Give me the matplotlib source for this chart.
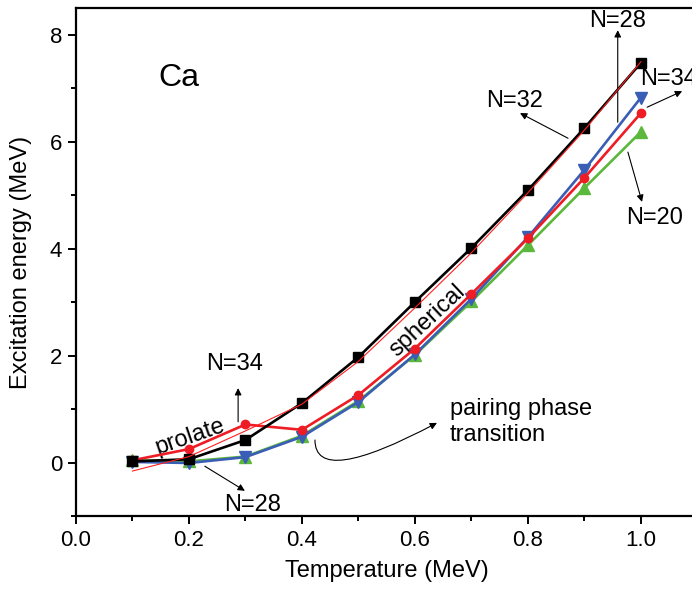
import matplotlib
matplotlib.use("Agg")
import matplotlib.pyplot as plt
from matplotlib.ticker import MultipleLocator

plt.rcParams['font.family'] = ['Liberation Sans', 'DejaVu Sans']

# temperature grid (MeV)
T = [0.1, 0.2, 0.3, 0.4, 0.5, 0.6, 0.7, 0.8, 0.9, 1.0]

# excitation energies (MeV)
E_black = [0.03, 0.07, 0.43, 1.12, 1.98, 3.01, 4.02, 5.10, 6.26, 7.48]
E_red = [0.05, 0.26, 0.72, 0.62, 1.27, 2.14, 3.16, 4.20, 5.33, 6.54]
E_blue = [0.02, 0.0, 0.11, 0.49, 1.14, 2.03, 3.07, 4.22, 5.48, 6.83]
E_green = [0.05, 0.03, 0.12, 0.51, 1.16, 2.02, 3.02, 4.07, 5.14, 6.19]
E_sph = [-0.15, 0.12, 0.60, 1.10, 1.90, 2.90, 3.93, 5.05, 6.22, 7.50]

fig = plt.figure(figsize=(6.92, 5.89), dpi=100)
# axes runs past the right edge of the figure, like the cropped original
ax = fig.add_axes([0.1098, 0.1231, 0.898, 0.8629])

lw = 1.9
ax.plot(T, E_green, color='#5cb83c', lw=lw, marker='^', ms=8, zorder=2)
ax.plot(T, E_blue, color='#3a5db5', lw=lw, marker='v', ms=8, zorder=3)
ax.plot(T, E_red, color='#ee1c24', lw=lw, marker='o', ms=6, zorder=4)
ax.plot(T, E_black, color='black', lw=lw, marker='s', ms=6.5, zorder=5)
ax.plot(T, E_sph, color='#ff2020', lw=0.8, zorder=6)

ax.set_xlim(0, 1.1)
ax.set_ylim(-1, 8.5)
ax.xaxis.set_major_locator(MultipleLocator(0.2))
ax.xaxis.set_minor_locator(MultipleLocator(0.1))
ax.yaxis.set_major_locator(MultipleLocator(2))
ax.yaxis.set_minor_locator(MultipleLocator(1))
ax.tick_params(which='both', direction='out', width=1.4, labelsize=16,
               top=False, right=False)
ax.tick_params(which='major', length=6, pad=4)
ax.tick_params(which='minor', length=3.5)
for s in ['left', 'bottom', 'top']:
    ax.spines[s].set_linewidth(1.6)
ax.spines['right'].set_visible(False)

ax.set_xlabel('Temperature (MeV)', fontsize=17)
ax.set_ylabel('Excitation energy (MeV)', fontsize=17)
ax.xaxis.set_label_coords(0.5, -0.085)
ax.yaxis.set_label_coords(-0.07, 0.5)

ax.text(0.145, 7.2, 'Ca', fontsize=23, va='center', ha='left')

arr = dict(arrowstyle='-|>', color='black', lw=0.8, mutation_scale=10,
           shrinkA=0, shrinkB=0)
fs = 17

# N labels with arrows
ax.annotate('', xy=(0.959, 8.09), xytext=(0.959, 6.37), arrowprops=arr)
ax.text(0.959, 8.27, 'N=28', fontsize=fs, ha='center', va='center')

ax.annotate('', xy=(1.073, 6.95), xytext=(1.011, 6.65), arrowprops=arr)
ax.text(0.998, 7.17, 'N=34', fontsize=fs, ha='left', va='center')

ax.annotate('', xy=(0.786, 6.54), xytext=(0.871, 6.07), arrowprops=arr)
ax.text(0.777, 6.76, 'N=32', fontsize=fs, ha='center', va='center')

ax.annotate('', xy=(1.002, 4.88), xytext=(0.977, 5.81), arrowprops=arr)
ax.text(1.025, 4.58, 'N=20', fontsize=fs, ha='center', va='center')

ax.annotate('', xy=(0.299, -0.52), xytext=(0.228, -0.06), arrowprops=arr)
ax.text(0.313, -0.79, 'N=28', fontsize=fs, ha='center', va='center')

ax.annotate('', xy=(0.287, 1.40), xytext=(0.287, 0.77), arrowprops=arr)
ax.text(0.28, 1.85, 'N=34', fontsize=fs, ha='center', va='center')

ax.text(0.202, 0.49, 'prolate', fontsize=fs, ha='center', va='center',
        rotation=19, rotation_mode='anchor')
ax.text(0.623, 2.67, 'spherical', fontsize=fs, ha='center', va='center',
        rotation=43, rotation_mode='anchor')

ax.text(0.662, 0.77, 'pairing phase\ntransition', fontsize=fs,
        ha='left', va='center', linespacing=1.25)
ax.annotate('', xy=(0.639, 0.75), xytext=(0.423, 0.43),
            arrowprops=dict(arrowstyle='-|>', color='black', lw=0.8,
                            mutation_scale=10, shrinkA=0, shrinkB=0,
                            connectionstyle='angle3,angleA=-90,angleB=28'))

fig.savefig('out.png', dpi=100)
